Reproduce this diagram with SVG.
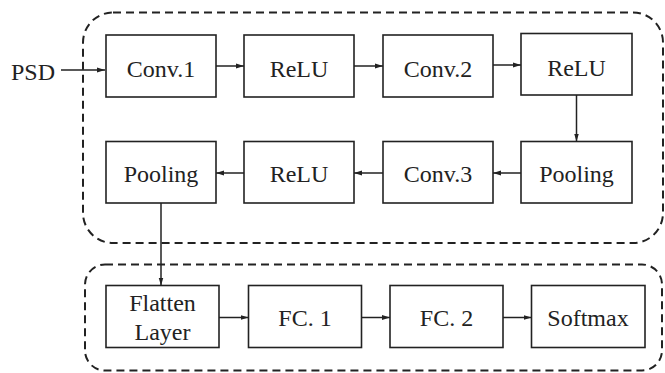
<svg xmlns="http://www.w3.org/2000/svg" width="665" height="373" viewBox="0 0 665 373">
  <defs>
    <marker id="ah" viewBox="0 0 8 6" refX="8" refY="3" markerWidth="8" markerHeight="6" markerUnits="userSpaceOnUse" orient="auto">
      <path d="M0,0.6 L8,3 L0,5.4 Z" fill="#222"/>
    </marker>
  </defs>
  <style>
    .box { fill: #fff; stroke: #222; stroke-width: 1.6; }
    .grp { fill: none; stroke: #222; stroke-width: 2; stroke-dasharray: 8 5; }
    .lbl { font-family: 'Liberation Serif', 'Times New Roman', serif; font-size: 24px; fill: #222; text-anchor: middle; }
    .edge { fill: none; stroke: #222; stroke-width: 1.5; marker-end: url(#ah); }
  </style>

  <!-- dashed grouping frames -->
  <rect class="grp" x="83" y="12.5" width="580" height="230.5" rx="30"/>
  <rect class="grp" x="85" y="264.5" width="577" height="106" rx="20"/>

  <!-- feature extraction stage -->
  <g id="conv1"><rect class="box" x="106" y="35" width="110" height="62"/><text class="lbl" x="161" y="77.3">Conv.1</text></g>
  <g id="relu1"><rect class="box" x="244" y="35" width="110" height="62"/><text class="lbl" x="299" y="77.3">ReLU</text></g>
  <g id="conv2"><rect class="box" x="383" y="35" width="110" height="62"/><text class="lbl" x="438" y="77.3">Conv.2</text></g>
  <g id="relu2"><rect class="box" x="521" y="33.5" width="111" height="61.5"/><text class="lbl" x="576.5" y="75.8">ReLU</text></g>

  <g id="pool2"><rect class="box" x="521" y="141.5" width="111" height="61.5"/><text class="lbl" x="576.5" y="182">Pooling</text></g>
  <g id="conv3"><rect class="box" x="383" y="141.5" width="110" height="61.5"/><text class="lbl" x="438" y="182">Conv.3</text></g>
  <g id="relu3"><rect class="box" x="244" y="141.5" width="110" height="61.5"/><text class="lbl" x="299" y="182">ReLU</text></g>
  <g id="pool1"><rect class="box" x="106" y="141.5" width="110" height="61.5"/><text class="lbl" x="161" y="182">Pooling</text></g>

  <!-- classification stage -->
  <g id="flatten"><rect class="box" x="106" y="285.5" width="113" height="62"/><text class="lbl" x="162.5" y="311">Flatten</text><text class="lbl" x="162.5" y="340">Layer</text></g>
  <g id="fc1"><rect class="box" x="248.5" y="285.5" width="113" height="62"/><text class="lbl" x="305" y="326">FC. 1</text></g>
  <g id="fc2"><rect class="box" x="390" y="285.5" width="113" height="62"/><text class="lbl" x="446.5" y="326">FC. 2</text></g>
  <g id="softmax"><rect class="box" x="531.5" y="285.5" width="113.5" height="62"/><text class="lbl" x="588" y="326">Softmax</text></g>

  <!-- input label -->
  <g id="psd"><text class="lbl" x="33" y="80.3">PSD</text></g>

  <!-- connectors -->
  <g id="edges">
    <line class="edge" x1="61" y1="70" x2="105" y2="70"/>
    <line class="edge" x1="216" y1="66" x2="244" y2="66"/>
    <line class="edge" x1="354" y1="66" x2="383" y2="66"/>
    <line class="edge" x1="493" y1="65" x2="521" y2="65"/>
    <line class="edge" x1="576.5" y1="95" x2="576.5" y2="141.5"/>
    <line class="edge" x1="521" y1="173" x2="493" y2="173"/>
    <line class="edge" x1="383" y1="173" x2="354" y2="173"/>
    <line class="edge" x1="244" y1="173" x2="216" y2="173"/>
    <line class="edge" x1="161" y1="203" x2="161" y2="285.5"/>
    <line class="edge" x1="219" y1="317.5" x2="248.5" y2="317.5"/>
    <line class="edge" x1="361.5" y1="317.5" x2="390" y2="317.5"/>
    <line class="edge" x1="503" y1="317.5" x2="531.5" y2="317.5"/>
  </g>
</svg>
